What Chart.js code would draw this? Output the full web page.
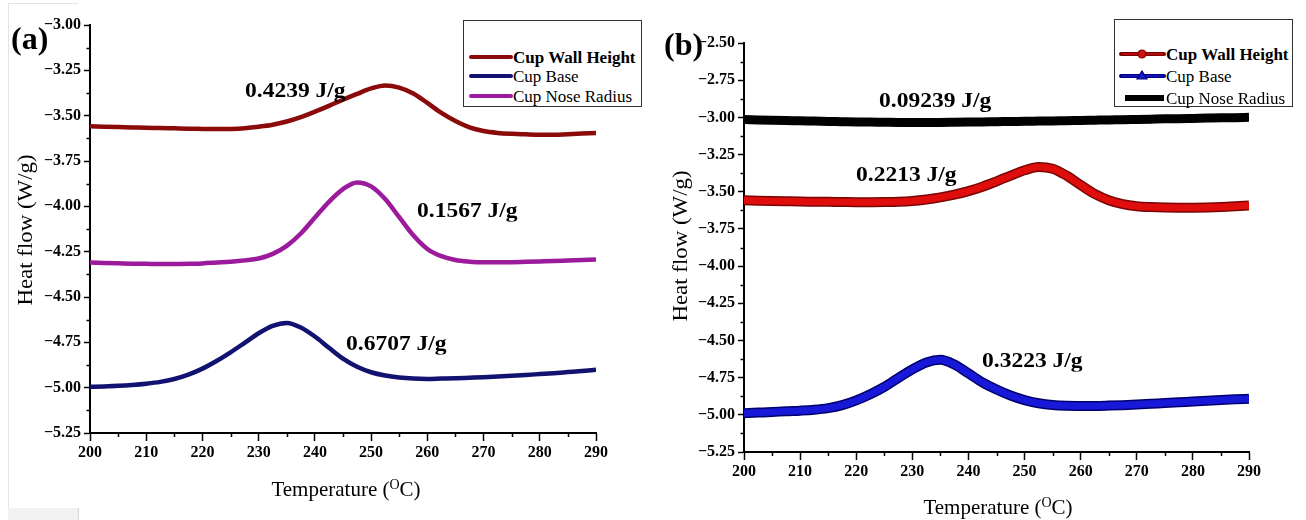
<!DOCTYPE html>
<html>
<head>
<meta charset="utf-8">
<script src="https://cdn.jsdelivr.net/npm/chart.js@4.4.1/dist/chart.umd.min.js"></script>
<style>
  html, body { margin: 0; padding: 0; background: #fff; }
  #stage { position: relative; width: 1306px; height: 520px; overflow: hidden; background: #fff;
           font-family: "Liberation Serif", "Times New Roman", serif; color: #000; }
  canvas { position: absolute; top: 0; }
  #cvA { left: 0; }
  #cvB { left: 655px; }
  .txt { position: absolute; white-space: nowrap; line-height: 1; }
  .panel { font-weight: bold; font-size: 32px; }
  .note { font-weight: bold; font-size: 21px; transform: translateY(-50%) scaleX(1.12); transform-origin: left center; }
  .ytitle { font-size: 22px; transform: translate(-50%, -50%) rotate(-90deg) scaleX(1.04); }
  .xtitle { font-size: 21px; transform: translate(-50%, -50%); }
  .xtitle sup { font-size: 14px; vertical-align: 7px; line-height: 0; }
  .legend { position: absolute; border: 1.5px solid #333; background: #fff; box-sizing: border-box; }
  .row { position: absolute; left: 0; display: flex; align-items: center; height: 20px; transform: translateY(-50%); }
  .row span { font-size: 17px; line-height: 1; }
  .row svg { display: block; }
  .frameV { position: absolute; left: 8px; top: 3px; width: 1px; height: 505px; background: #e4e4e4; }
  .frameH { position: absolute; left: 8px; top: 3px; width: 70px; height: 1px; background: #e4e4e4; }
  .frameFoot { position: absolute; left: 8px; top: 508px; width: 70px; height: 12px; background: #f1f1f1; border-right: 1px solid #d6d6d6; }
</style>
</head>
<body>
<div id="stage">
  <div class="frameV"></div><div class="frameH"></div><div class="frameFoot"></div>
  <canvas id="cvA" width="655" height="520"></canvas>
  <canvas id="cvB" width="651" height="520"></canvas>

  <!-- panel (a) texts -->
  <div class="txt panel" style="left:11px; top:22px;">(a)</div>
  <div class="txt ytitle" style="left:25px; top:230px;">Heat flow (W/g)</div>
  <div class="txt xtitle" style="left:346px; top:489px;">Temperature (<sup>O</sup>C)</div>
  <div class="txt note" style="left:245px; top:90px;">0.4239 J/g</div>
  <div class="txt note" style="left:417px; top:210px;">0.1567 J/g</div>
  <div class="txt note" style="left:346px; top:343px;">0.6707 J/g</div>

  <div class="legend" style="left:463px; top:20px; width:179px; height:87px;">
    <div class="row" style="top:36px;">
      <svg width="49" height="10"><line x1="7" y1="5" x2="47" y2="5" stroke="#8b0a0a" stroke-width="4" stroke-linecap="round"/></svg>
      <span style="font-weight:bold;">Cup Wall Height</span>
    </div>
    <div class="row" style="top:55px;">
      <svg width="49" height="10"><line x1="7" y1="5" x2="47" y2="5" stroke="#121270" stroke-width="4" stroke-linecap="round"/></svg>
      <span>Cup Base</span>
    </div>
    <div class="row" style="top:75px;">
      <svg width="49" height="10"><line x1="7" y1="5" x2="47" y2="5" stroke="#9c1a9c" stroke-width="4" stroke-linecap="round"/></svg>
      <span>Cup Nose Radius</span>
    </div>
  </div>

  <!-- panel (b) texts -->
  <div class="txt panel" style="left:664px; top:28px;">(b)</div>
  <div class="txt ytitle" style="left:680px; top:246px;">Heat flow (W/g)</div>
  <div class="txt xtitle" style="left:998px; top:507px;">Temperature (<sup>O</sup>C)</div>
  <div class="txt note" style="left:879px; top:100px;">0.09239 J/g</div>
  <div class="txt note" style="left:856px; top:174px;">0.2213 J/g</div>
  <div class="txt note" style="left:982px; top:360px;">0.3223 J/g</div>

  <div class="legend" style="left:1114px; top:19px; width:179px; height:88px;">
    <div class="row" style="top:34px;">
      <svg width="51" height="12"><line x1="6" y1="6" x2="49" y2="6" stroke="#7a0000" stroke-width="4" stroke-linecap="round"/><line x1="7" y1="6" x2="48" y2="6" stroke="#c81010" stroke-width="1.6"/><circle cx="27" cy="6" r="4" fill="#d01010" stroke="#7a0000" stroke-width="1.2"/></svg>
      <span style="font-weight:bold;">Cup Wall Height</span>
    </div>
    <div class="row" style="top:56px;">
      <svg width="51" height="12"><line x1="6" y1="6" x2="49" y2="6" stroke="#00007a" stroke-width="4" stroke-linecap="round"/><line x1="7" y1="6" x2="48" y2="6" stroke="#1a1ad0" stroke-width="1.6"/><polygon points="27,1 32,9 22,9" fill="#1a1ad0" stroke="#00007a" stroke-width="1.2"/></svg>
      <span>Cup Base</span>
    </div>
    <div class="row" style="top:78px;">
      <svg width="51" height="12"><rect x="10" y="3" width="39" height="6" fill="#000"/></svg>
      <span>Cup Nose Radius</span>
    </div>
  </div>
</div>

<script>
// Temperature grid (°C) shared by every curve
const temperature = [200, 202.5, 205, 207.5, 210, 212.5, 215, 217.5, 220, 222.5, 225, 227.5, 230, 232.5, 235,
  237.5, 240, 242.5, 245, 247.5, 250, 252.5, 255, 257.5, 260, 262.5, 265, 267.5, 270, 272.5, 275, 277.5, 280,
  282.5, 285, 287.5, 290];

// Panel (a) heat flow (W/g)
const wallHeightA = [-3.559, -3.561, -3.563, -3.565, -3.567, -3.568, -3.570, -3.572, -3.573, -3.574, -3.573,
  -3.569, -3.561, -3.550, -3.532, -3.508, -3.478, -3.446, -3.412, -3.380, -3.350, -3.333, -3.345, -3.378,
  -3.430, -3.485, -3.530, -3.565, -3.585, -3.595, -3.600, -3.603, -3.605, -3.605, -3.602, -3.599, -3.596];
const cupBaseA = [-4.995, -4.993, -4.990, -4.985, -4.978, -4.968, -4.952, -4.928, -4.895, -4.853, -4.805,
  -4.753, -4.700, -4.659, -4.643, -4.668, -4.718, -4.780, -4.840, -4.885, -4.915, -4.933, -4.944, -4.950,
  -4.952, -4.950, -4.948, -4.945, -4.942, -4.938, -4.934, -4.930, -4.925, -4.920, -4.914, -4.908, -4.901];
const noseRadiusA = [-4.310, -4.312, -4.314, -4.316, -4.317, -4.318, -4.318, -4.317, -4.315, -4.310, -4.305,
  -4.298, -4.288, -4.262, -4.218, -4.150, -4.062, -3.975, -3.905, -3.868, -3.890, -3.960, -4.060, -4.160,
  -4.235, -4.275, -4.296, -4.305, -4.309, -4.309, -4.308, -4.306, -4.304, -4.302, -4.299, -4.296, -4.293];

// Panel (b) heat flow (W/g)
const wallHeightB = [-3.558, -3.560, -3.562, -3.564, -3.566, -3.567, -3.568, -3.569, -3.570, -3.570, -3.569,
  -3.567, -3.562, -3.552, -3.538, -3.520, -3.496, -3.466, -3.430, -3.392, -3.356, -3.333, -3.345, -3.392,
  -3.455, -3.515, -3.557, -3.583, -3.597, -3.603, -3.606, -3.607, -3.607, -3.606, -3.603, -3.598, -3.592];
const cupBaseB = [-4.989, -4.985, -4.981, -4.976, -4.972, -4.966, -4.955, -4.935, -4.903, -4.862, -4.812,
  -4.752, -4.695, -4.648, -4.630, -4.662, -4.721, -4.782, -4.830, -4.870, -4.901, -4.922, -4.934, -4.939,
  -4.940, -4.940, -4.938, -4.935, -4.931, -4.926, -4.921, -4.916, -4.911, -4.906, -4.901, -4.896, -4.892];
const noseRadiusB = [-3.015, -3.017, -3.019, -3.021, -3.023, -3.025, -3.027, -3.029, -3.031, -3.032, -3.033,
  -3.034, -3.034, -3.034, -3.034, -3.033, -3.032, -3.031, -3.029, -3.028, -3.026, -3.025, -3.024, -3.022,
  -3.021, -3.019, -3.017, -3.016, -3.014, -3.012, -3.010, -3.009, -3.007, -3.005, -3.003, -3.002, -3.000];

// Axis ranges and tick steps
const xRange = [200, 290];
const yRangeA = [-5.25, -3.00];
const yRangeB = [-5.25, -2.50];
const xMajorStep = 10, xMinorStep = 5;
const yMajorStep = 0.25, yMinorStep = 0.125;

const isMultiple = (v, step) => Math.abs(v / step - Math.round(v / step)) < 1e-6;
const fmtY = v => (v < 0 ? '\u2212' : '') + Math.abs(v).toFixed(2);
const pts = ys => temperature.map((t, i) => ({ x: t, y: ys[i] }));

// Short minor ticks between the labelled ones
const minorTicks = {
  id: 'minorTicks',
  afterDraw(chart) {
    const ctx = chart.ctx, xs = chart.scales.x, ys = chart.scales.y;
    ctx.save();
    ctx.strokeStyle = '#000';
    ctx.lineWidth = 1.5;
    ctx.beginPath();
    xs.ticks.forEach(t => {
      if (!isMultiple(t.value, xMajorStep)) {
        const px = Math.round(xs.getPixelForValue(t.value)) + 0.5;
        ctx.moveTo(px, xs.top); ctx.lineTo(px, xs.top + 4);
      }
    });
    ys.ticks.forEach(t => {
      if (!isMultiple(t.value, yMajorStep)) {
        const py = Math.round(ys.getPixelForValue(t.value)) + 0.5;
        ctx.moveTo(ys.right - 3.5, py); ctx.lineTo(ys.right, py);
      }
    });
    ctx.stroke();
    ctx.restore();
  }
};

const tickFont = { family: '"Liberation Serif", "Times New Roman", serif', size: 16, weight: 'bold' };

function makeOptions(yRange, area) {
  return {
    responsive: false,
    animation: false,
    devicePixelRatio: 1,
    layout: { padding: { left: 0, top: area.top, right: area.right, bottom: 0 } },
    plugins: { legend: { display: false }, tooltip: { enabled: false } },
    elements: { point: { radius: 0 }, line: { tension: 0.4, cubicInterpolationMode: 'monotone', borderCapStyle: 'butt', borderJoinStyle: 'round' } },
    scales: {
      x: {
        type: 'linear', min: xRange[0], max: xRange[1],
        border: { display: true, color: '#000', width: 2 },
        grid: { display: true, drawOnChartArea: false, drawTicks: true, tickLength: 8, tickWidth: 1.5,
                tickColor: c => (c.tick && isMultiple(c.tick.value, xMajorStep)) ? '#000' : 'rgba(0,0,0,0)' },
        ticks: { stepSize: xMinorStep, autoSkip: false, maxRotation: 0, padding: 2, color: '#000', font: tickFont,
                 callback: v => isMultiple(v, xMajorStep) ? String(v) : '' },
        afterFit: s => { s.height = area.xHeight; }
      },
      y: {
        type: 'linear', min: yRange[0], max: yRange[1],
        border: { display: true, color: '#000', width: 2 },
        grid: { display: true, drawOnChartArea: false, drawTicks: true, tickLength: 6, tickWidth: 1.5,
                tickColor: c => (c.tick && isMultiple(c.tick.value, yMajorStep)) ? '#000' : 'rgba(0,0,0,0)' },
        ticks: { stepSize: yMinorStep, autoSkip: false, maxTicksLimit: 100, padding: 3, color: '#000', font: tickFont,
                 callback: v => isMultiple(v, yMajorStep) ? fmtY(v) : '' },
        afterFit: s => { s.width = area.yWidth; }
      }
    }
  };
}

// Panel (a): thin curves
new Chart(document.getElementById('cvA'), {
  type: 'line',
  data: {
    datasets: [
      { label: 'Cup Wall Height', data: pts(wallHeightA), borderColor: '#8b0a0a', borderWidth: 4.5 },
      { label: 'Cup Base', data: pts(cupBaseA), borderColor: '#121270', borderWidth: 4.5 },
      { label: 'Cup Nose Radius', data: pts(noseRadiusA), borderColor: '#9c1a9c', borderWidth: 4.5 }
    ]
  },
  options: makeOptions(yRangeA, { top: 25, right: 59, xHeight: 87, yWidth: 90 }),
  plugins: [minorTicks]
});

// Panel (b): heavy marker-dense curves, each with a darker rim
new Chart(document.getElementById('cvB'), {
  type: 'line',
  data: {
    datasets: [
      { label: 'Cup Wall Height', data: pts(wallHeightB), borderColor: '#e00d0d', borderWidth: 7, order: 1 },
      { label: 'Cup Wall Height rim', data: pts(wallHeightB), borderColor: '#7a0505', borderWidth: 10, order: 2 },
      { label: 'Cup Base', data: pts(cupBaseB), borderColor: '#1818d8', borderWidth: 7, order: 1 },
      { label: 'Cup Base rim', data: pts(cupBaseB), borderColor: '#00006e', borderWidth: 10, order: 2 },
      { label: 'Cup Nose Radius', data: pts(noseRadiusB), borderColor: '#000', borderWidth: 9, order: 1 }
    ]
  },
  options: makeOptions(yRangeB, { top: 43, right: 57, xHeight: 68, yWidth: 89 }),
  plugins: [minorTicks]
});
</script>
</body>
</html>
